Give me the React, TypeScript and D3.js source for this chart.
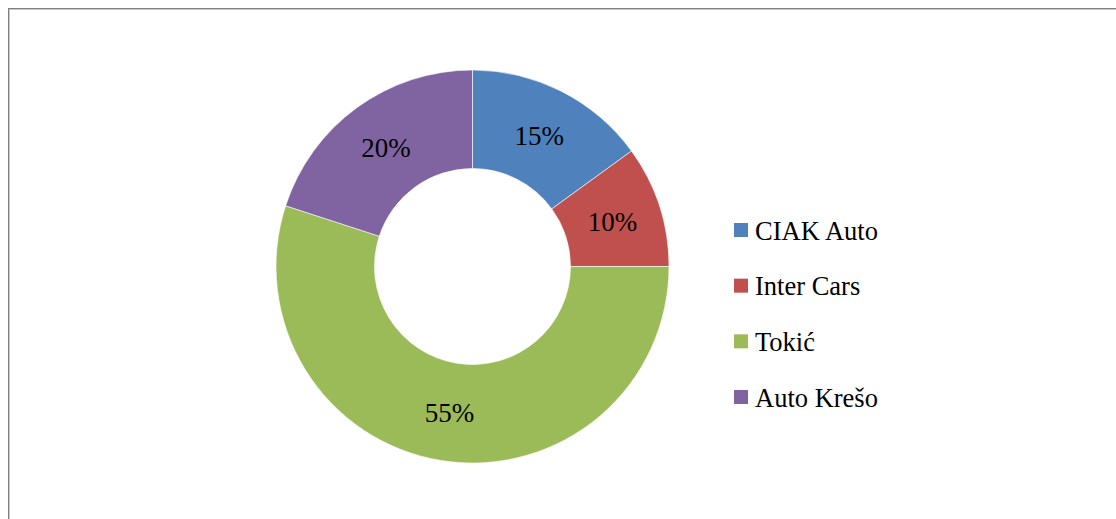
import React from "react";
import * as d3 from "d3";

const categories = ["CIAK Auto", "Inter Cars", "Tokić", "Auto Krešo"];
const values = [15, 10, 55, 20];
const colors = ["#4F81BD", "#C0504D", "#9BBB59", "#8064A2"];

const W = 1116;
const H = 519;
const cx = 472.5;
const cy = 266.5;
const outerR = 196.5;
const innerR = 98;
const FONT = "'Liberation Serif', 'Times New Roman', serif";

export default function App() {
  const total = d3.sum(values);
  const pie = d3.pie<number>().sort(null).value((d) => d);
  const arcs = pie(values);
  const arc = d3.arc<d3.PieArcDatum<number>>().innerRadius(innerR).outerRadius(outerR);
  const legendY = d3.scalePoint<string>().domain(categories).range([230, 397]);

  return (
    <svg
      width={W}
      height={H}
      style={{ position: "absolute", left: 0, top: 0, background: "#fff" }}
      fontFamily={FONT}
    >
      <rect x={8.5} y={8.5} width={W + 20} height={H + 20} fill="#fff" stroke="#808080" strokeWidth={1} />
      <rect x={9.5} y={9.5} width={W + 20} height={H + 20} fill="none" stroke="#c8c8c8" strokeWidth={1} />
      <g transform={`translate(${cx},${cy})`}>
        {arcs.map((a, i) => (
          <path key={i} d={arc(a) || ""} fill={colors[i]} stroke="#fff" strokeWidth={0.6} />
        ))}
        {arcs.map((a, i) => {
          const [x, y] = arc.centroid(a);
          return (
            <text key={i} x={x} y={y} dy="0.36em" textAnchor="middle" fontSize={27} fill="#000">
              {`${Math.round((values[i] / total) * 100)}%`}
            </text>
          );
        })}
      </g>
      {categories.map((c, i) => (
        <g key={c} transform={`translate(734,${legendY(c)})`}>
          <rect x={0} y={-7} width={14} height={14} fill={colors[i]} />
          <text x={21} y={0} dy="0.36em" fontSize={26.5} fill="#000">
            {c}
          </text>
        </g>
      ))}
    </svg>
  );
}
